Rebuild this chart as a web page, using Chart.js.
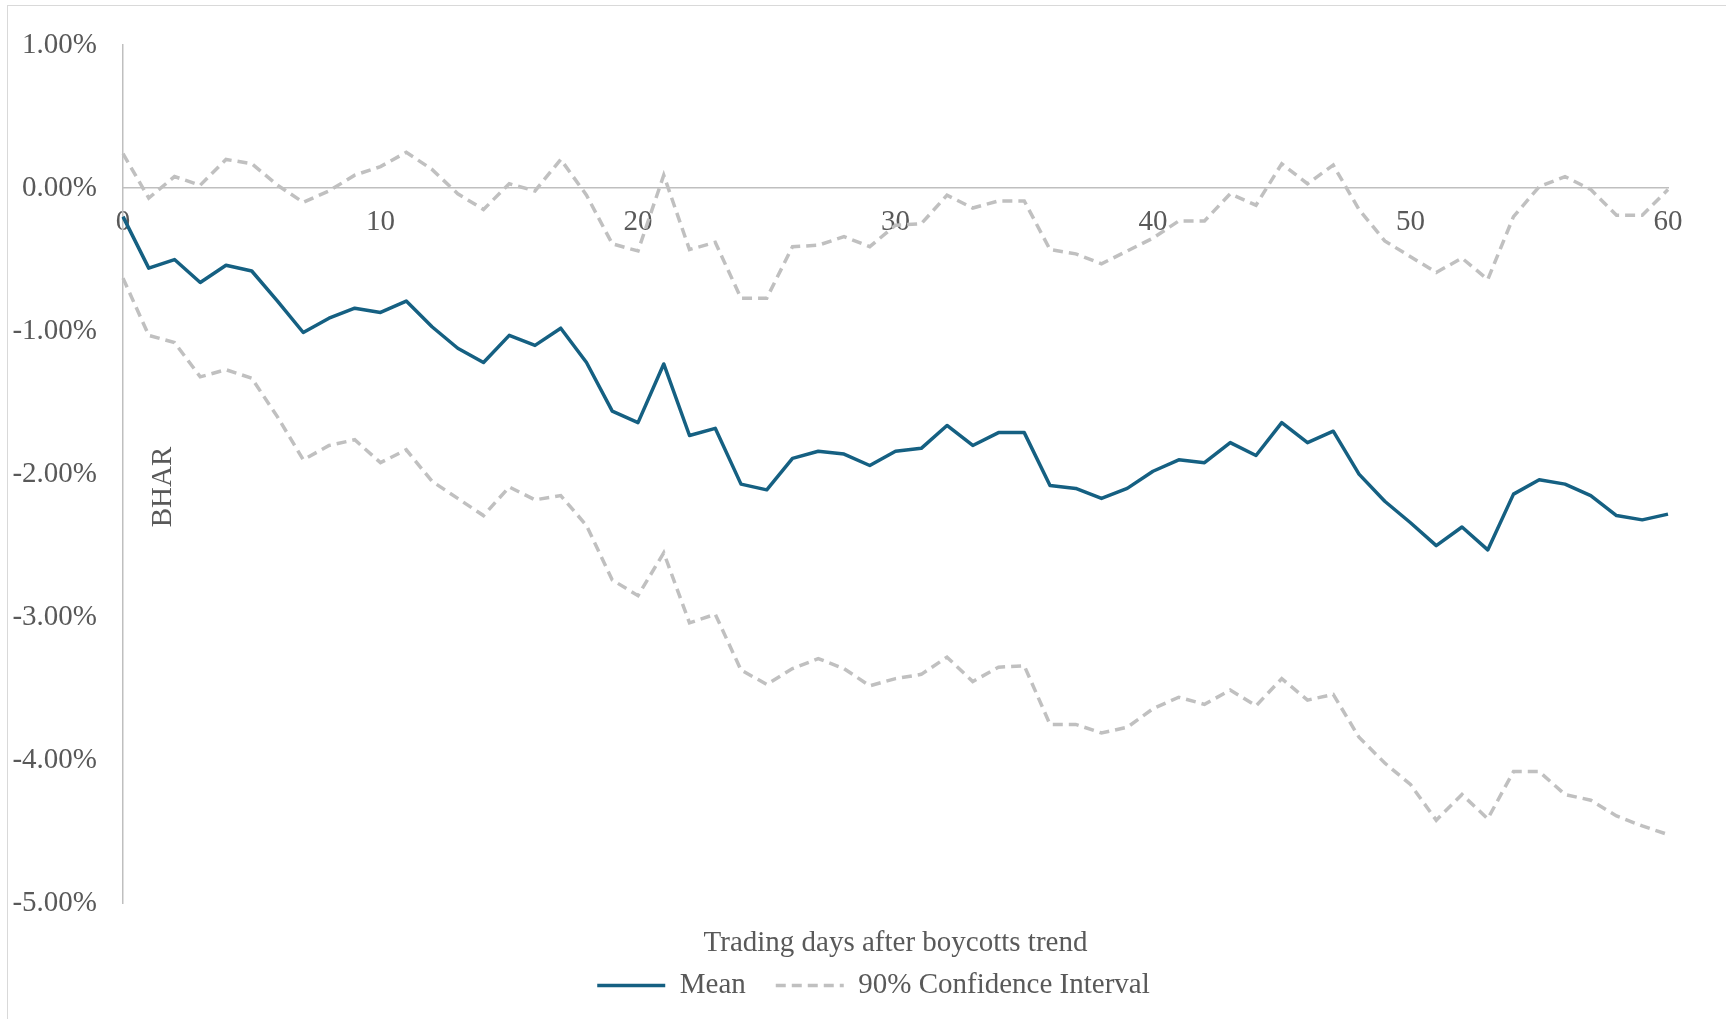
<!DOCTYPE html>
<html>
<head>
<meta charset="utf-8">
<script src="https://cdn.jsdelivr.net/npm/chart.js@4.4.1/dist/chart.umd.min.js"></script>
<style>
  html, body { margin: 0; padding: 0; background: #fff; overflow: hidden; }
  #wrap { position: relative; width: 1726px; height: 1019px; }
  #frame { position: absolute; left: 7px; top: 5px; width: 1740px; height: 1040px;
           border: 1.5px solid #d9d9d9; pointer-events: none; }
</style>
</head>
<body>
<div id="wrap">
  <canvas id="grafica" width="1726" height="1019"></canvas>
  <div id="frame"></div>
</div>
<script>
// trading days 0..60
const days = [];
for (let d = 0; d <= 60; d++) days.push(String(d));

// values in percent
const meanBHAR = [-0.20, -0.56, -0.50, -0.66, -0.54, -0.58, -0.79, -1.01, -0.91, -0.84, -0.87,
  -0.79, -0.97, -1.12, -1.22, -1.03, -1.10, -0.98, -1.22, -1.56, -1.64,
  -1.23, -1.73, -1.68, -2.07, -2.11, -1.89, -1.84, -1.86, -1.94, -1.84,
  -1.82, -1.66, -1.80, -1.71, -1.71, -2.08, -2.10, -2.17, -2.10, -1.98,
  -1.90, -1.92, -1.78, -1.87, -1.64, -1.78, -1.70, -2.00, -2.19, -2.34,
  -2.50, -2.37, -2.53, -2.14, -2.04, -2.07, -2.15, -2.29, -2.32, -2.28];

const upperCI = [0.24, -0.07, 0.08, 0.02, 0.20, 0.17, 0.02, -0.10, -0.02, 0.09, 0.15,
  0.25, 0.13, -0.04, -0.15, 0.03, -0.02, 0.20, -0.05, -0.39, -0.44,
  0.09, -0.43, -0.38, -0.77, -0.77, -0.41, -0.40, -0.34, -0.41, -0.26,
  -0.25, -0.05, -0.14, -0.09, -0.09, -0.43, -0.46, -0.53, -0.44, -0.35,
  -0.23, -0.23, -0.04, -0.12, 0.17, 0.03, 0.16, -0.15, -0.37, -0.48,
  -0.59, -0.49, -0.64, -0.20, 0.01, 0.08, -0.01, -0.19, -0.19, -0.01];

const lowerCI = [-0.63, -1.03, -1.08, -1.32, -1.27, -1.33, -1.60, -1.90, -1.80, -1.76, -1.92,
  -1.83, -2.05, -2.17, -2.29, -2.09, -2.18, -2.15, -2.36, -2.74, -2.85,
  -2.55, -3.04, -2.98, -3.37, -3.47, -3.36, -3.29, -3.36, -3.48, -3.43,
  -3.40, -3.28, -3.45, -3.35, -3.34, -3.75, -3.75, -3.81, -3.77, -3.64,
  -3.56, -3.61, -3.51, -3.62, -3.43, -3.58, -3.54, -3.84, -4.02, -4.17,
  -4.42, -4.24, -4.41, -4.08, -4.08, -4.24, -4.28, -4.39, -4.46, -4.52];

const xTickEvery = 10;

const textColor = '#595959';
const axisColor = '#bfbfbf';
const meanColor = '#156082';
const ciColor = '#c0c0c0';
const fontSize = 29;
const fontFamily = "'Liberation Serif', 'Times New Roman', serif";

Chart.defaults.font.family = fontFamily;
Chart.defaults.font.size = fontSize;
Chart.defaults.color = textColor;

const meanSet = {
    label: 'Mean',
    data: meanBHAR,
    borderColor: meanColor,
    backgroundColor: meanColor,
    borderWidth: 3.5,
    borderJoinStyle: 'round',
    pointRadius: 0,
    tension: 0,
    fill: false
};

const upperSet = {
    label: '90% Confidence Interval',
    data: upperCI,
    borderColor: ciColor,
    backgroundColor: ciColor,
    borderWidth: 3.5,
    borderDash: [10, 6],
    pointRadius: 0,
    tension: 0,
    fill: false
};

const lowerSet = {
    label: '90% Confidence Interval',
    data: lowerCI,
    borderColor: ciColor,
    backgroundColor: ciColor,
    borderWidth: 3.5,
    borderDash: [10, 6],
    pointRadius: 0,
    tension: 0,
    fill: false
};

// "BHAR" sits inside the plot, right of the axis line
const bharLabel = {
    id: 'bharLabel',
    afterDraw(chart) {
        const a = chart.chartArea;
        const ctx = chart.ctx;
        ctx.save();
        ctx.translate(a.left + 40, a.top + (a.bottom - a.top) * 0.515);
        ctx.rotate(-Math.PI / 2);
        ctx.font = fontSize + 'px ' + fontFamily;
        ctx.fillStyle = textColor;
        ctx.textAlign = 'center';
        ctx.textBaseline = 'middle';
        ctx.fillText('BHAR', 0, 0);
        ctx.restore();
    }
};

// legend in the original sits a little left of the plot centre
const legendNudge = {
    id: 'legendNudge',
    afterLayout(chart) {
        chart.legend.left -= 22;
        chart.legend.right -= 22;
    }
};

const graph = document.querySelector('#grafica');

new Chart(graph, {
    type: 'line',
    data: {
        labels: days,
        datasets: [meanSet, upperSet, lowerSet]
    },
    options: {
        responsive: false,
        animation: false,
        layout: { padding: { left: 4, right: 58, top: 45, bottom: 9 } },
        scales: {
            x: {
                type: 'category',
                position: { y: 0 },
                grid: { display: false, drawTicks: false },
                border: { display: true, color: axisColor, width: 1.5 },
                ticks: {
                    autoSkip: false,
                    maxRotation: 0,
                    padding: 17,
                    callback: (v, i) => (i % xTickEvery === 0 ? days[i] : '')
                }
            },
            y: {
                min: -5,
                max: 1,
                grid: { display: false, drawTicks: false },
                border: { display: true, color: axisColor, width: 1.5 },
                ticks: {
                    stepSize: 1,
                    padding: 26,
                    callback: v => v.toFixed(2) + '%'
                },
                afterFit(scale) { scale.width = 119; }
            }
        },
        plugins: {
            title: {
                display: true,
                text: 'Trading days after boycotts trend',
                position: 'bottom',
                fullSize: false,
                weight: 500,
                color: textColor,
                font: { size: fontSize, weight: 'normal' },
                padding: { top: 23, bottom: -20 }
            },
            legend: {
                position: 'bottom',
                fullSize: false,
                weight: 1000,
                labels: {
                    usePointStyle: true,
                    pointStyle: 'line',
                    pointStyleWidth: 68,
                    padding: 30,
                    color: textColor,
                    font: { size: fontSize },
                    generateLabels(chart) {
                        const items = Chart.defaults.plugins.legend.labels.generateLabels(chart);
                        items.forEach(it => {
                            const ds = chart.data.datasets[it.datasetIndex];
                            it.lineDash = ds.borderDash || [];
                            it.lineWidth = ds.borderWidth;
                            it.strokeStyle = ds.borderColor;
                        });
                        return items;
                    },
                    filter: item => item.datasetIndex !== 2
                }
            },
            tooltip: { enabled: false }
        }
    },
    plugins: [bharLabel, legendNudge]
});
</script>
</body>
</html>
